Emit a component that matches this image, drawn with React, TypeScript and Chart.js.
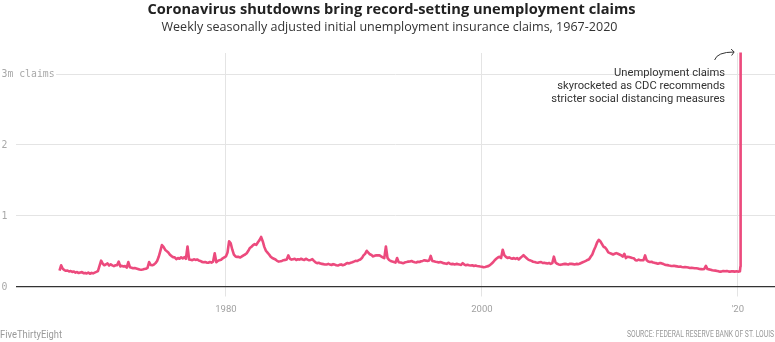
import React, { useEffect, useRef } from 'react';
import { Chart, registerables } from 'chart.js';

Chart.register(...registerables);

const TITLE = 'Coronavirus shutdowns bring record-setting unemployment claims';
const SUBTITLE = 'Weekly seasonally adjusted initial unemployment insurance claims, 1967-2020';
const ANNOTATION_LINES = [
  'Unemployment claims',
  'skyrocketed as CDC recommends',
  'stricter social distancing measures',
];
const CREDIT = 'FiveThirtyEight';
const SOURCE = 'SOURCE: FEDERAL RESERVE BANK OF ST. LOUIS';

// Initial claims in thousands, sampled 8 times per year
const SAMPLES_PER_YEAR = 8;
const START_1960S = 1967;
const claims1960s = [
  225, 300, 250, 232, 222, 226, 212, 218,
  205, 212, 196, 204, 190, 198, 203, 188,
  192, 184, 197, 180, 192, 186, 196, 206,
];
const START_1970S = 1970;
const claims1970s = [
  218, 292, 365, 322, 300, 314, 326, 296,
  312, 298, 288, 300, 302, 352, 284, 292,
  282, 288, 268, 345, 272, 266, 258, 262,
  255, 248, 240, 236, 240, 246, 250, 262,
  345, 305, 300, 310, 330, 360, 420, 500,
  585, 560, 520, 500, 480, 450, 430, 415,
  412, 388, 402, 392, 412, 398, 414, 390,
  565, 382, 378, 372, 384, 376, 382, 368,
  362, 348, 342, 346, 338, 336, 346, 338,
  352, 470, 342, 362, 372, 378, 398, 412,
];
const START_1980S = 1980;
const claims1980s = [
  425, 480, 640, 610, 520, 450, 425, 418,
  418, 410, 425, 440, 452, 470, 505, 545,
  562, 585, 600, 588, 625, 655, 700, 640,
  560, 505, 478, 452, 420, 402, 392, 382,
  362, 352, 356, 362, 372, 376, 382, 440,
  392, 380, 386, 392, 374, 386, 380, 392,
  382, 374, 392, 380, 370, 376, 386, 362,
  342, 330, 336, 324, 320, 316, 310, 312,
  320, 310, 304, 316, 310, 300, 296, 306,
  312, 300, 306, 322, 332, 326, 336, 342,
];
const START_1990S = 1990;
const claims1990s = [
  352, 362, 360, 372, 382, 402, 440, 462,
  505, 480, 455, 445, 425, 435, 442, 440,
  440, 425, 412, 400, 565, 405, 375, 360,
  352, 346, 338, 402, 344, 340, 334, 330,
  342, 346, 352, 354, 360, 350, 344, 340,
  350, 346, 356, 362, 370, 366, 360, 366,
  432, 362, 356, 350, 346, 340, 346, 338,
  330, 326, 320, 336, 322, 316, 320, 312,
  320, 316, 310, 306, 330, 310, 300, 306,
  300, 296, 300, 290, 296, 290, 286, 282,
];
const START_2000S = 2000;
const claims2000s = [
  280, 272, 276, 282, 288, 302, 322, 342,
  372, 392, 410, 420, 402, 520, 442, 418,
  402, 412, 400, 392, 402, 390, 402, 382,
  402, 422, 442, 420, 400, 380, 370, 362,
  350, 346, 340, 336, 342, 346, 332, 336,
  330, 326, 332, 320, 330, 422, 340, 322,
  312, 306, 312, 316, 320, 316, 310, 322,
  320, 316, 312, 320, 316, 322, 332, 342,
  352, 362, 375, 385, 420, 452, 512, 562,
  622, 660, 640, 602, 562, 552, 522, 482,
];
const START_2010S = 2010;
const claims2010s = [
  472, 462, 452, 462, 472, 462, 452, 442,
  422, 462, 402, 420, 418, 410, 402, 398,
  372, 368, 380, 372, 370, 372, 440, 370,
  352, 346, 350, 340, 334, 330, 322, 330,
  330, 322, 312, 305, 302, 296, 292, 290,
  292, 288, 284, 280, 282, 276, 272, 276,
  272, 268, 262, 266, 262, 258, 258, 254,
  248, 246, 244, 248, 292, 246, 242, 238,
  230, 226, 224, 220, 214, 210, 214, 220,
  216, 220, 214, 210, 216, 214, 210, 216,
];
const dates2020 = [2020.0, 2020.08, 2020.16, 2020.197, 2020.214];
const claims2020 = [212, 210, 215, 282, 3307];

const yTickValues = [0, 1, 2, 3];
const yTickLabels = ['0', '1', '2', '3m claims'];
const xTickYears = [1980, 2000, 2020];
const xTickLabels = ['1980', '2000', "'20"];

const ANNOTATION_YEAR = 2020.214;
const ANNOTATION_VALUE = 3.307;

const LINE_COLOR = '#ec4a7d';

function decadePoints(start: number, values: number[]) {
  return values.map((v, i) => ({ x: start + i / SAMPLES_PER_YEAR, y: v / 1000 }));
}

const overlayPlugin = {
  id: 'overlay',
  afterDraw(chart: any) {
    const { ctx } = chart;
    const xs = chart.scales.x;
    const ys = chart.scales.y;
    ctx.save();
    ctx.textAlign = 'center';
    ctx.textBaseline = 'middle';
    ctx.fillStyle = '#222';
    ctx.font = 'bold 14.6px "Open Sans", sans-serif';
    ctx.fillText(TITLE, 391.5, 9.5, 488);
    ctx.fillStyle = '#333';
    ctx.font = '12.6px "Open Sans", sans-serif';
    ctx.fillText(SUBTITLE, 389.5, 27, 456);

    // y tick labels
    ctx.textAlign = 'left';
    ctx.font = '9.8px "DejaVu Sans Mono", monospace';
    yTickValues.forEach((v, i) => {
      const py = ys.getPixelForValue(v);
      const label = yTickLabels[i];
      const w = ctx.measureText(label).width;
      ctx.fillStyle = '#ffffff';
      ctx.fillRect(0, py - 6, w + 3, 12);
      ctx.fillStyle = '#a8a8a8';
      ctx.fillText(label, 1.5, py + 0.5);
    });

    ctx.fillStyle = '#999';
    ctx.font = '10px Roboto, sans-serif';
    ctx.fillText(CREDIT, 0, 335, 62);
    ctx.textAlign = 'right';
    ctx.font = '9px Roboto, sans-serif';
    ctx.fillText(SOURCE, 774, 335, 147);

    const sx = xs.getPixelForValue(ANNOTATION_YEAR);
    const sy = ys.getPixelForValue(ANNOTATION_VALUE);
    ctx.fillStyle = '#333';
    ctx.font = '11.2px Roboto, sans-serif';
    ANNOTATION_LINES.forEach((line, i) => {
      ctx.fillText(line, sx - 15.5, sy + 20.8 + i * 13);
    });

    // curved arrow
    ctx.strokeStyle = '#333';
    ctx.lineWidth = 1;
    ctx.beginPath();
    ctx.moveTo(sx - 26, sy + 7.5);
    ctx.quadraticCurveTo(sx - 23.5, sy - 0.5, sx - 6.5, sy - 0.5);
    ctx.stroke();
    ctx.beginPath();
    ctx.moveTo(sx - 9.5, sy - 3.5);
    ctx.lineTo(sx - 6.5, sy - 0.5);
    ctx.lineTo(sx - 9, sy + 3);
    ctx.stroke();
    ctx.restore();
  },
};

export default function App() {
  const canvasRef = useRef<HTMLCanvasElement | null>(null);

  useEffect(() => {
    const canvas = canvasRef.current;
    if (!canvas) return;
    const points = [
      ...decadePoints(START_1960S, claims1960s),
      ...decadePoints(START_1970S, claims1970s),
      ...decadePoints(START_1980S, claims1980s),
      ...decadePoints(START_1990S, claims1990s),
      ...decadePoints(START_2000S, claims2000s),
      ...decadePoints(START_2010S, claims2010s),
      ...dates2020.map((d, i) => ({ x: d, y: claims2020[i] / 1000 })),
    ];

    const chart = new Chart(canvas, {
      type: 'line',
      data: {
        datasets: [
          {
            data: points,
            borderColor: LINE_COLOR,
            borderWidth: 2.6,
            pointRadius: 0,
            tension: 0,
            clip: false as any,
            borderJoinStyle: 'round',
          } as any,
        ],
      },
      options: {
        animation: false,
        responsive: false,
        devicePixelRatio: 1,
        layout: { padding: { top: 53, left: 0, right: 0, bottom: 0 } },
        plugins: {
          legend: { display: false },
          tooltip: { enabled: false },
        },
        scales: {
          x: {
            type: 'linear',
            min: 1963.6,
            max: 2022.9,
            afterBuildTicks: (s: any) => {
              s.ticks = xTickYears.map((v) => ({ value: v }));
            },
            afterFit: (s: any) => {
              s.height = 55.5;
            },
            grid: {
              color: '#e4e4e4',
              lineWidth: 1,
              drawTicks: true,
              tickLength: 10,
              tickColor: '#e4e4e4',
            },
            border: { display: false },
            ticks: {
              autoSkip: false,
              maxRotation: 0,
              padding: 7,
              color: '#a0a0a0',
              font: { family: 'Roboto, sans-serif', size: 9.5 },
              callback: (v: any) => {
                const i = xTickYears.indexOf(Number(v));
                return i >= 0 ? xTickLabels[i] : '';
              },
            },
          },
          y: {
            min: 0,
            max: 3.3,
            afterBuildTicks: (s: any) => {
              s.ticks = yTickValues.map((v) => ({ value: v }));
            },
            afterFit: (s: any) => {
              s.width = 16;
            },
            grid: {
              color: (c: any) => (c.tick && c.tick.value === 0 ? '#333' : '#e4e4e4'),
              lineWidth: (c: any) => (c.tick && c.tick.value === 0 ? 1.3 : 1),
              drawTicks: false,
            },
            border: { display: false },
            ticks: { display: false },
          },
        },
      },
      plugins: [overlayPlugin],
    });

    return () => {
      chart.destroy();
    };
  }, []);

  return (
    <div style={{ position: 'absolute', left: 0, top: 0, width: 775, height: 342, background: '#fff' }}>
      <canvas ref={canvasRef} width={775} height={342} style={{ display: 'block' }} />
    </div>
  );
}
